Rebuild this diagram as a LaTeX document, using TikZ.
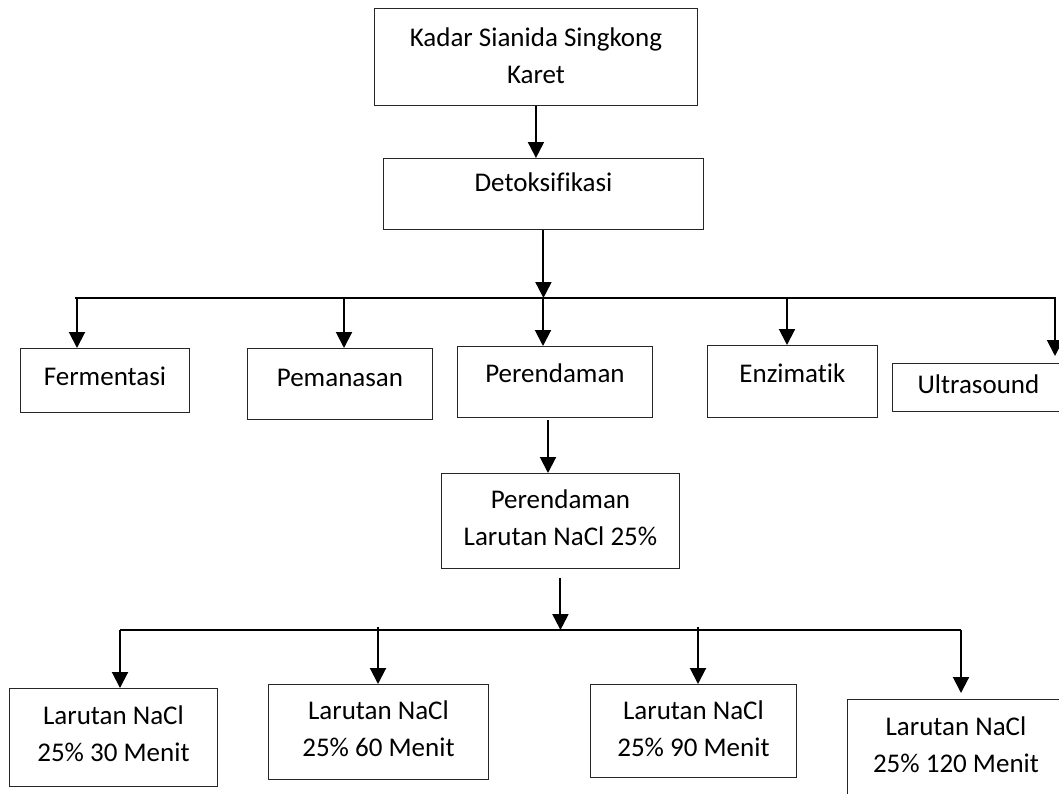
\documentclass[tikz,border=0pt]{standalone}
\usepackage{fontspec}
\setmainfont{Carlito}[Ligatures=NoCommon]
\usetikzlibrary{arrows.meta}

\begin{document}
\begin{tikzpicture}[x=1pt,y=-1pt,
        panah/.style={draw=black,line width=2pt,-{Triangle[width=16pt,length=16pt]}},
        garis/.style={draw=black,line width=2pt}]
        \useasboundingbox (0,0) rectangle (1059,793);
        \clip (0,0) rectangle (1059,793);
        \fill[white] (0,0) rectangle (1059,793);
        \begin{scope}[every node/.style={rectangle,draw=black!85,line width=0.9pt,inner sep=0pt,align=flush center,anchor=north west,font=\fontsize{27}{37}\selectfont}]
            \node (kadar) [text width=323pt,text height=38pt,text depth=59pt] at (374,8) {Kadar Sianida Singkong\\Karet};
            \node (detoks) [text width=320pt,text height=33pt,text depth=38pt] at (383,158) {Detoksifikasi};
            \node (fermentasi) [text width=169pt,text height=37pt,text depth=27pt] at (20,348) {Fermentasi};
            \node (pemanasan) [text width=185pt,text height=38pt,text depth=33pt] at (247,348) {Pemanasan};
            \node (perendaman) [text width=195pt,text height=36pt,text depth=35pt] at (457,346) {Perendaman};
            \node (enzimatik) [text width=170pt,text height=37pt,text depth=35pt] at (707,345) {Enzimatik};
            \node (ultrasound) [text width=172pt,text height=30pt,text depth=18pt] at (892,363) {Ultrasound};
            \node (nacl) [text width=238pt,text height=35pt,text depth=60pt] at (441,473) {Perendaman\\Larutan NaCl 25\%};
            \node (menit30) [text width=208pt,text height=36pt,text depth=62pt] at (9,688) {Larutan NaCl\\25\% 30 Menit};
            \node (menit60) [text width=220pt,text height=35pt,text depth=60pt] at (268,684) {Larutan NaCl\\25\% 60 Menit};
            \node (menit90) [text width=206pt,text height=35pt,text depth=58pt] at (590,684) {Larutan NaCl\\25\% 90 Menit};
            \node (menit120) [text width=217pt,text height=36pt,text depth=70pt] at (847,699) {Larutan NaCl\\25\% 120 Menit};
        \end{scope}
        % garis cabang
        \coordinate (busA1) at (75,298);
        \coordinate (busA2) at (1056,298);
        \coordinate (busB1) at (120,630);
        \coordinate (busB2) at (961,630);
        \coordinate (c1) at (77,298);
        \coordinate (c2) at (344,298);
        \coordinate (c3) at (543,298);
        \coordinate (c4) at (787,298);
        \coordinate (c5) at (1055,298);
        \coordinate (p1) at (548,420);
        \coordinate (d1) at (120,630);
        \coordinate (d2) at (378,627);
        \coordinate (d3) at (698,627);
        \coordinate (d4) at (961,630);
        \draw [panah] (kadar.south) -- (kadar.south |- detoks.north);
        \draw [panah] (detoks.south) -- (detoks.south |- busA1);
        \draw [garis] (busA1) -- (busA2);
        \draw [panah] (c1) -- (c1 |- fermentasi.north);
        \draw [panah] (c2) -- (c2 |- pemanasan.north);
        \draw [panah] (c3) -- (c3 |- perendaman.north);
        \draw [panah] (c4) -- (c4 |- enzimatik.north);
        \draw [panah] (c5) -- ([yshift=7pt]c5 |- ultrasound.north);
        \draw [panah] (p1) -- (p1 |- nacl.north);
        \draw [panah] ([yshift=-9pt]nacl.south) -- (nacl.south |- busB1);
        \draw [garis] (busB1) -- (busB2);
        \draw [panah] (d1) -- (d1 |- menit30.north);
        \draw [panah] (d2) -- (d2 |- menit60.north);
        \draw [panah] (d3) -- (d3 |- menit90.north);
        \draw [panah] (d4) -- ([yshift=6pt]d4 |- menit120.north);
    \end{tikzpicture}
\end{document}
